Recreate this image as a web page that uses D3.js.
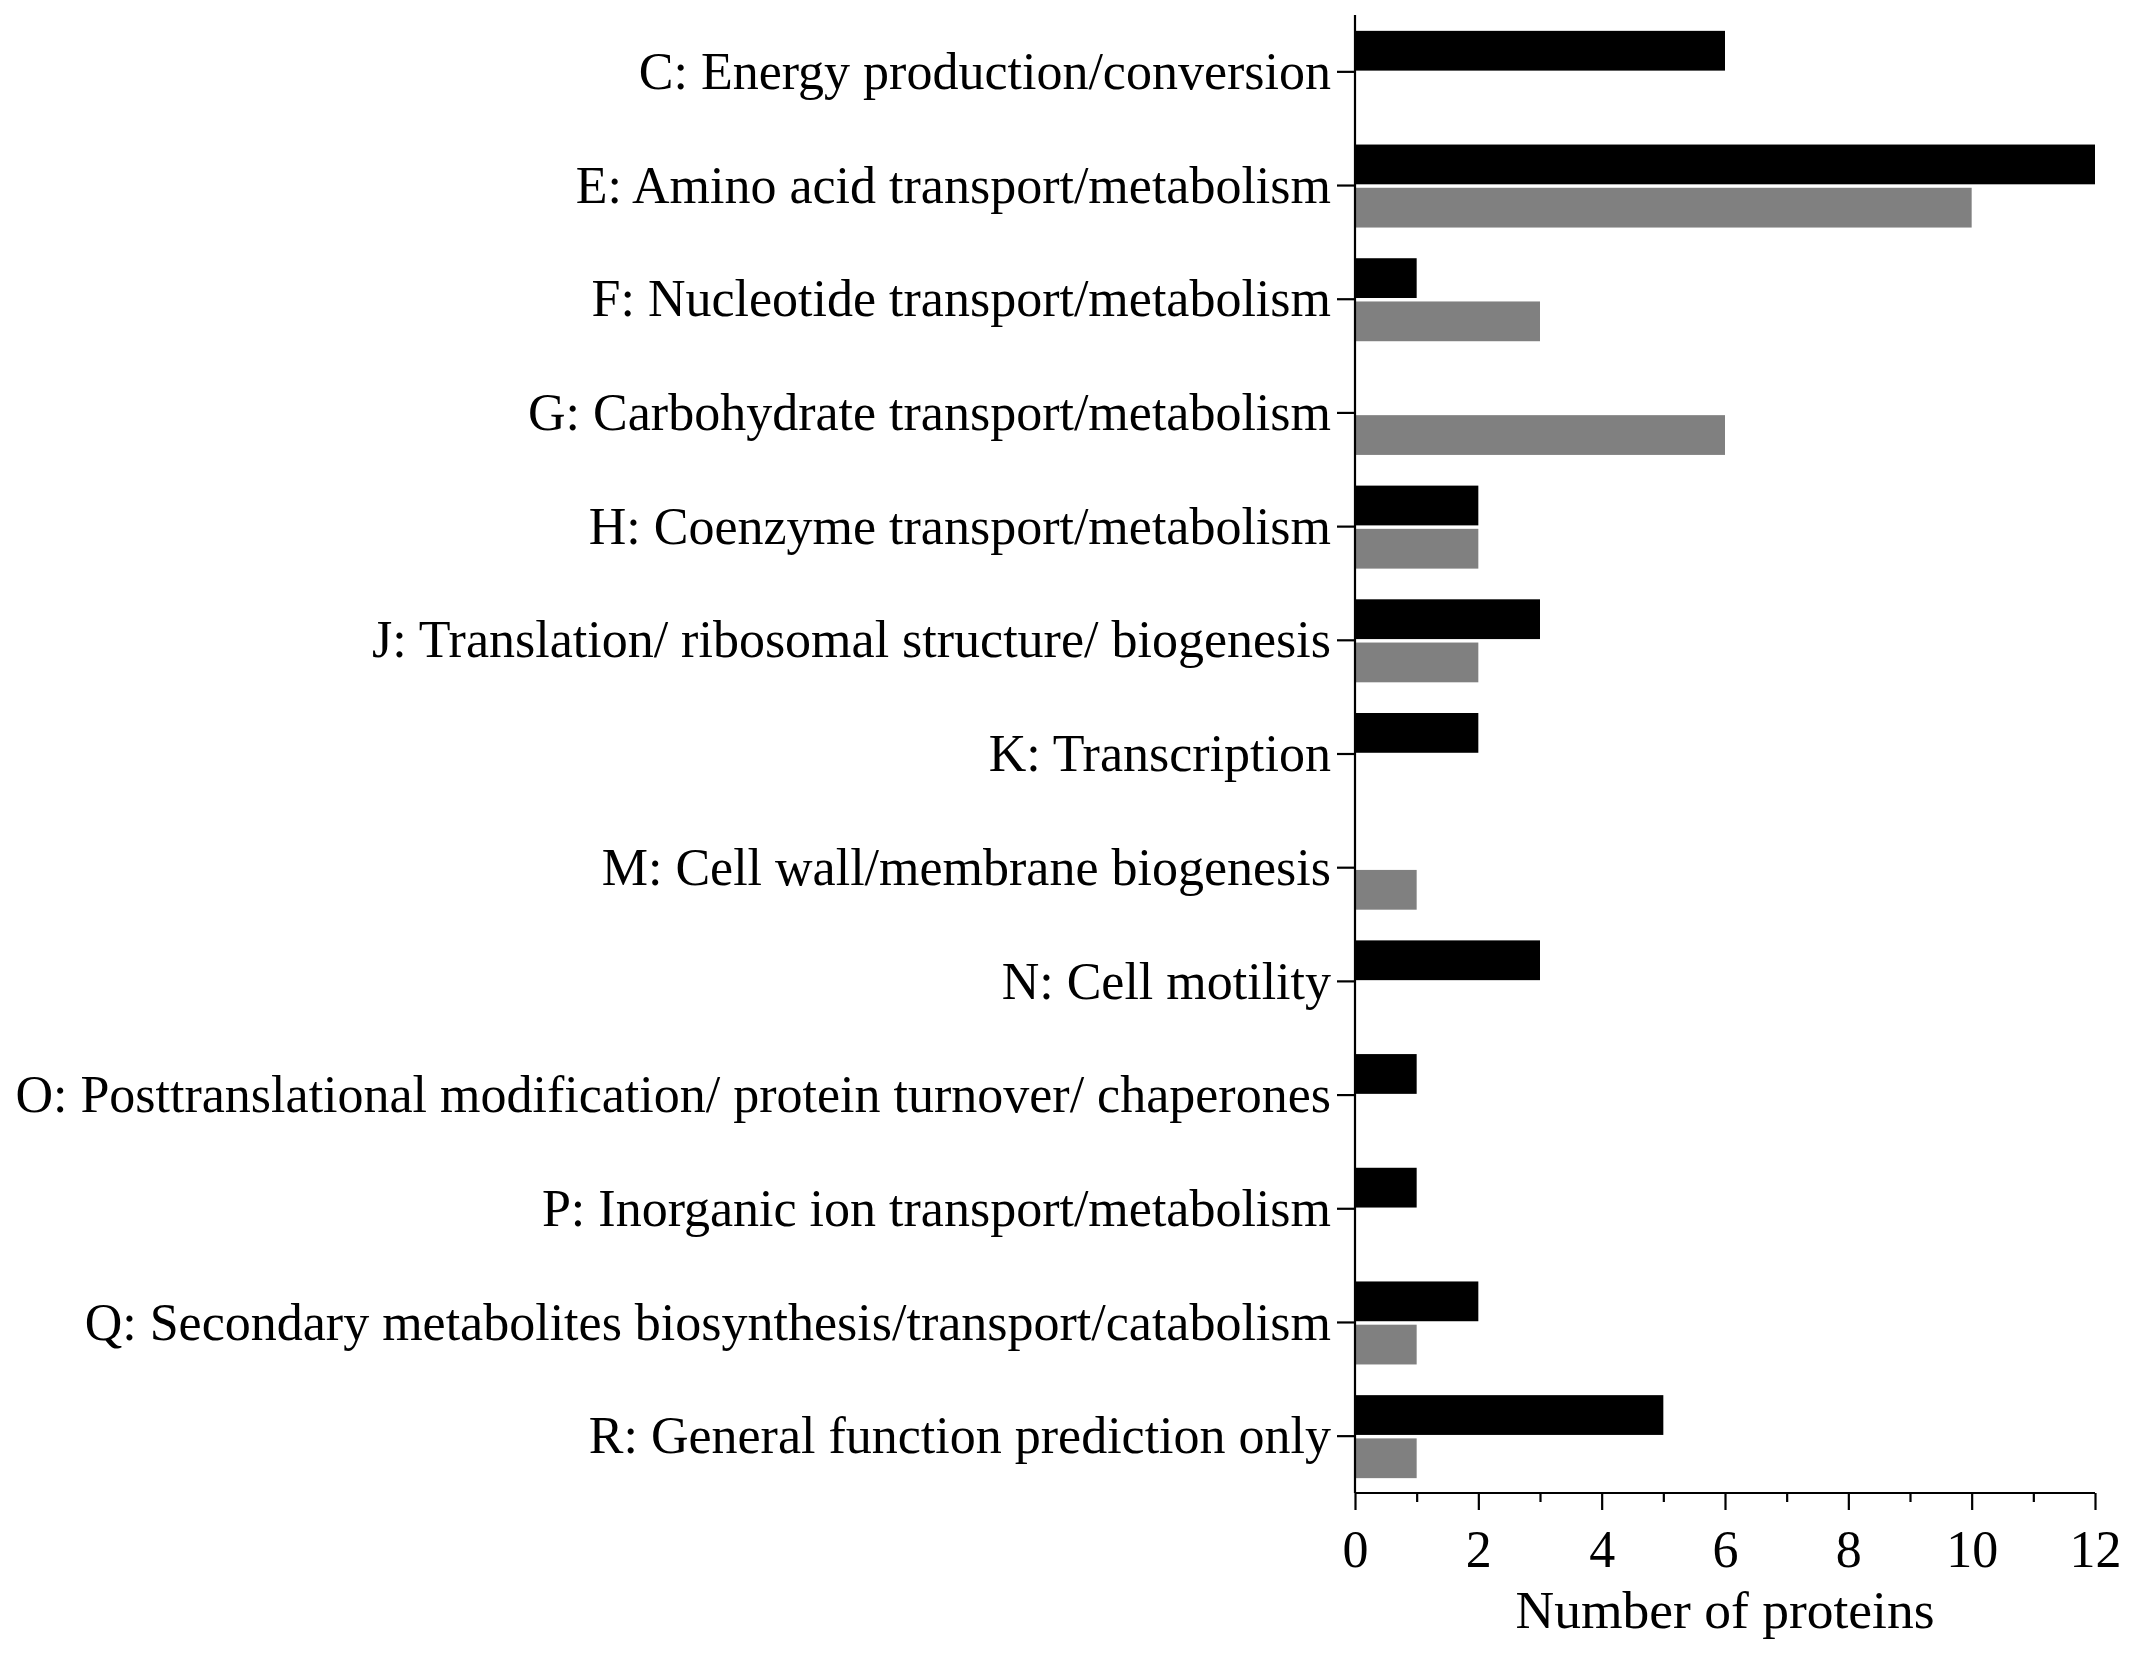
<!DOCTYPE html>
<html>
<head>
<meta charset="utf-8">
<script src="https://cdn.jsdelivr.net/npm/d3@7"></script>
<style>
  html, body { margin: 0; padding: 0; background: #fff; }
  svg { display: block; }
  text { font-family: "Liberation Serif", "DejaVu Serif", serif; fill: #000; }
</style>
</head>
<body>
<svg id="chart" width="2133" height="1653"></svg>
<script>
const categories = [
  "C: Energy production/conversion",
  "E: Amino acid transport/metabolism",
  "F: Nucleotide transport/metabolism",
  "G: Carbohydrate transport/metabolism",
  "H: Coenzyme transport/metabolism",
  "J: Translation/ ribosomal structure/ biogenesis",
  "K: Transcription",
  "M: Cell wall/membrane biogenesis",
  "N: Cell motility",
  "O: Posttranslational modification/ protein turnover/ chaperones",
  "P: Inorganic ion transport/metabolism",
  "Q: Secondary metabolites biosynthesis/transport/catabolism",
  "R: General function prediction only"
];
const seriesA = [6, 12, 1, 0, 2, 3, 2, 0, 3, 1, 1, 2, 5];   // black bars
const seriesB = [0, 10, 3, 6, 2, 2, 0, 1, 0, 0, 0, 1, 1];   // gray bars
const seriesNames = ["A", "B"];
const seriesColors = ["#000000", "#808080"];
const xTicks = [0, 2, 4, 6, 8, 10, 12];
const xMinorTicks = [1, 3, 5, 7, 9, 11];
const xTitle = "Number of proteins";

const svg = d3.select("#chart");
const mLeft = 1355, mRight = 2095, mTop = 15, mBottom = 1493;

const x = d3.scaleLinear().domain([0, 12]).range([mLeft, mRight]);
const y = d3.scaleBand().domain(categories).range([mTop, mBottom]).paddingInner(0).paddingOuter(0);
const bw = y.bandwidth();
const ySub = d3.scaleBand().domain(seriesNames).range([-41, 42]).paddingInner(0.08);

const rows = categories.map((c, i) => ({ cat: c, vals: [seriesA[i], seriesB[i]] }));

const g = svg.append("g");
rows.forEach(r => {
  r.vals.forEach((v, k) => {
    if (v <= 0) return;
    g.append("rect")
      .attr("x", x(0))
      .attr("y", y(r.cat) + bw / 2 + ySub(seriesNames[k]))
      .attr("width", x(v) - x(0))
      .attr("height", ySub.bandwidth())
      .attr("fill", seriesColors[k]);
  });
});

// Y axis
const yAxis = d3.axisLeft(y).tickSize(18).tickPadding(6);
const yg = svg.append("g").attr("transform", `translate(${mLeft},0)`).call(yAxis);
yg.select(".domain").remove();
yg.selectAll(".tick line").attr("stroke", "#000").attr("stroke-width", 2.2);
yg.selectAll(".tick text").attr("font-size", 52).attr("dy", "0.33em")
  .style("font-family", '"Liberation Serif", serif');
svg.append("line").attr("x1", mLeft).attr("x2", mLeft).attr("y1", mTop).attr("y2", mBottom)
  .attr("stroke", "#000").attr("stroke-width", 2.2);

// X axis
const xAxis = d3.axisBottom(x).tickValues(xTicks).tickFormat(d3.format("d")).tickSize(17).tickPadding(20);
const xg = svg.append("g").attr("transform", `translate(0,${mBottom})`).call(xAxis);
xg.select(".domain").remove();
xg.selectAll(".tick line").attr("stroke", "#000").attr("stroke-width", 2.2);
xg.selectAll(".tick text").attr("font-size", 52)
  .style("font-family", '"Liberation Serif", serif');
const xMinor = d3.axisBottom(x).tickValues(xMinorTicks).tickFormat("").tickSize(9);
const xmg = svg.append("g").attr("transform", `translate(0,${mBottom})`).call(xMinor);
xmg.select(".domain").remove();
xmg.selectAll(".tick line").attr("stroke", "#000").attr("stroke-width", 2.2);
svg.append("line").attr("x1", mLeft).attr("x2", mRight).attr("y1", mBottom).attr("y2", mBottom)
  .attr("stroke", "#000").attr("stroke-width", 2.2);

svg.append("text")
  .attr("x", (mLeft + mRight) / 2)
  .attr("y", 1628)
  .attr("text-anchor", "middle")
  .attr("font-size", 53.5)
  .text(xTitle);
</script>
</body>
</html>
